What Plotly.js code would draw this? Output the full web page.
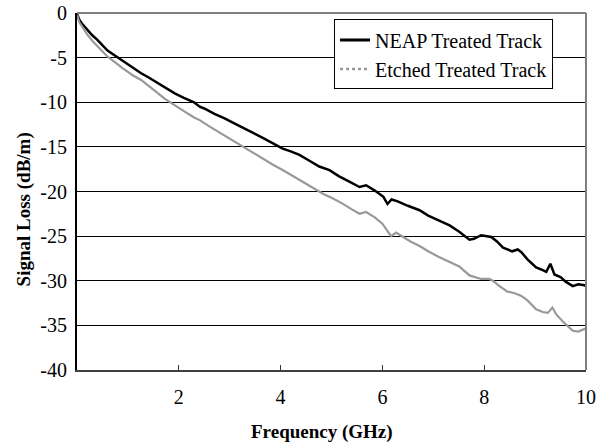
<!DOCTYPE html>
<html>
<head>
<meta charset="utf-8">
<script src="https://cdn.plot.ly/plotly-3.0.1.min.js"></script>
<style>html,body{margin:0;padding:0;background:#fff;}#chart{width:600px;height:443px;}</style>
</head>
<body>
<div id="chart"></div>
<script>
// Frequency (GHz) and signal loss (dB/m)
const neapFreq = [0,0.05,0.1,0.2,0.3,0.4,0.5,0.6,0.7,0.8,0.9,1.0,1.1,1.26,1.4,1.6,1.8,1.92,2.1,2.3,2.41,2.5,2.7,2.9,3.1,3.26,3.45,3.65,3.85,4.04,4.2,4.37,4.55,4.76,4.96,5.15,5.35,5.55,5.68,5.85,6.02,6.1,6.18,6.3,6.5,6.73,6.9,7.1,7.32,7.51,7.71,7.8,7.94,8.14,8.25,8.37,8.55,8.66,8.73,8.85,9.02,9.15,9.22,9.3,9.38,9.5,9.6,9.74,9.85,9.97,10];
const neapLoss = [-0.1,-0.8,-1.2,-1.9,-2.5,-3.0,-3.6,-4.2,-4.6,-5.0,-5.4,-5.8,-6.1,-6.75,-7.2,-7.9,-8.6,-9.0,-9.5,-10.0,-10.5,-10.7,-11.3,-11.8,-12.4,-12.9,-13.4,-14.0,-14.6,-15.2,-15.5,-15.9,-16.5,-17.2,-17.6,-18.3,-18.9,-19.5,-19.3,-19.9,-20.6,-21.4,-20.9,-21.1,-21.6,-22.1,-22.7,-23.2,-23.8,-24.5,-25.4,-25.3,-24.9,-25.1,-25.6,-26.3,-26.7,-26.5,-26.8,-27.6,-28.5,-28.8,-29.0,-28.1,-29.3,-29.6,-30.1,-30.6,-30.4,-30.5,-30.6];

const etchFreq = [0,0.05,0.1,0.2,0.3,0.4,0.5,0.6,0.7,0.8,0.9,1.0,1.1,1.26,1.4,1.55,1.72,1.9,2.1,2.3,2.41,2.6,2.8,3.0,3.26,3.45,3.65,3.85,4.04,4.25,4.45,4.65,4.85,5.0,5.2,5.4,5.55,5.68,5.85,6.0,6.07,6.17,6.27,6.4,6.55,6.73,6.9,7.1,7.32,7.51,7.71,7.94,8.1,8.17,8.3,8.45,8.6,8.73,8.85,9.02,9.15,9.25,9.34,9.42,9.55,9.65,9.74,9.85,9.97,10];
const etchLoss = [-0.2,-1.1,-1.5,-2.4,-3.1,-3.7,-4.3,-4.9,-5.3,-5.8,-6.2,-6.6,-7.0,-7.5,-8.1,-8.8,-9.6,-10.3,-11.0,-11.7,-12.0,-12.7,-13.4,-14.1,-15.0,-15.6,-16.3,-17.0,-17.6,-18.3,-19.0,-19.7,-20.3,-20.7,-21.3,-22.0,-22.5,-22.3,-22.9,-23.6,-24.2,-25.0,-24.6,-25.1,-25.6,-26.1,-26.7,-27.3,-27.9,-28.4,-29.4,-29.8,-29.8,-30.0,-30.6,-31.2,-31.4,-31.7,-32.2,-33.2,-33.5,-33.6,-33.0,-33.8,-34.6,-35.1,-35.6,-35.7,-35.4,-35.5];

const seriesNames = ['NEAP Treated Track','Etched Treated Track'];
const xTickVals = [2,4,6,8,10];
const xTickText = ['2','4','6','8','10'];
const yTickVals = [0,-5,-10,-15,-20,-25,-30,-35,-40];
const yTickText = ['0','-5','-10','-15','-20','-25','-30','-35','-40'];
const xTitle = 'Frequency (GHz)';
const yTitle = 'Signal Loss (dB/m)';

const serif = 'Liberation Serif';

const traces = [
  {x: neapFreq, y: neapLoss, mode:'lines', line:{color:'#000000', width:2.5}, showlegend:false, hoverinfo:'skip'},
  {x: etchFreq, y: etchLoss, mode:'lines', line:{color:'#999999', width:2.2}, showlegend:false, hoverinfo:'skip'},
  {x:[null], y:[null], mode:'lines', name: seriesNames[0], line:{color:'#000000', width:3}},
  {x:[null], y:[null], mode:'lines', name: seriesNames[1], line:{color:'#999999', width:2.5, dash:'dot'}}
];

const layout = {
  width:600, height:443,
  margin:{l:77, r:14, t:13, b:73, pad:0},
  paper_bgcolor:'#ffffff', plot_bgcolor:'#ffffff',
  font:{family:serif, size:20, color:'#000000'},
  showlegend:true,
  legend:{x:0.505, y:0.982, xanchor:'left', yanchor:'top', bgcolor:'#ffffff', bordercolor:'#000000', borderwidth:1,
          font:{family:serif, size:20, color:'#000000'}, tracegroupgap:0},
  xaxis:{range:[0,10], tickvals:xTickVals, ticktext:xTickText, ticks:'inside', ticklen:5, tickwidth:1, tickcolor:'#333333',
         showgrid:false, zeroline:false, showline:true, linecolor:'#404040', linewidth:2,
         tickfont:{family:serif, size:20}, ticklabelstandoff:8},
  yaxis:{range:[-40,0], tickvals:yTickVals, ticktext:yTickText, ticks:'', showgrid:true, gridcolor:'#000000', gridwidth:1,
         zeroline:false, showline:true, linecolor:'#000000', linewidth:2,
         tickfont:{family:serif, size:20}, ticklabelstandoff:4},
  annotations:[
    {text:'<b>'+xTitle+'</b>', xref:'paper', yref:'paper', x:0.481, y:-0.174, xanchor:'center', yanchor:'middle',
     showarrow:false, font:{family:serif, size:19, color:'#000000'}},
    {text:'<b>'+yTitle+'</b>', xref:'paper', yref:'paper', x:-0.104, y:0.45, xanchor:'center', yanchor:'middle',
     textangle:-90, showarrow:false, font:{family:serif, size:19, color:'#000000'}}
  ],
  shapes:[
    {type:'line', xref:'paper', yref:'paper', x0:0, x1:1, y0:1, y1:1, line:{color:'#808080', width:2}},
    {type:'line', xref:'paper', yref:'paper', x0:1, x1:1, y0:0, y1:1, line:{color:'#808080', width:2}}
  ]
};

Plotly.newPlot('chart', traces, layout, {staticPlot:true, displayModeBar:false});
</script>
</body>
</html>
